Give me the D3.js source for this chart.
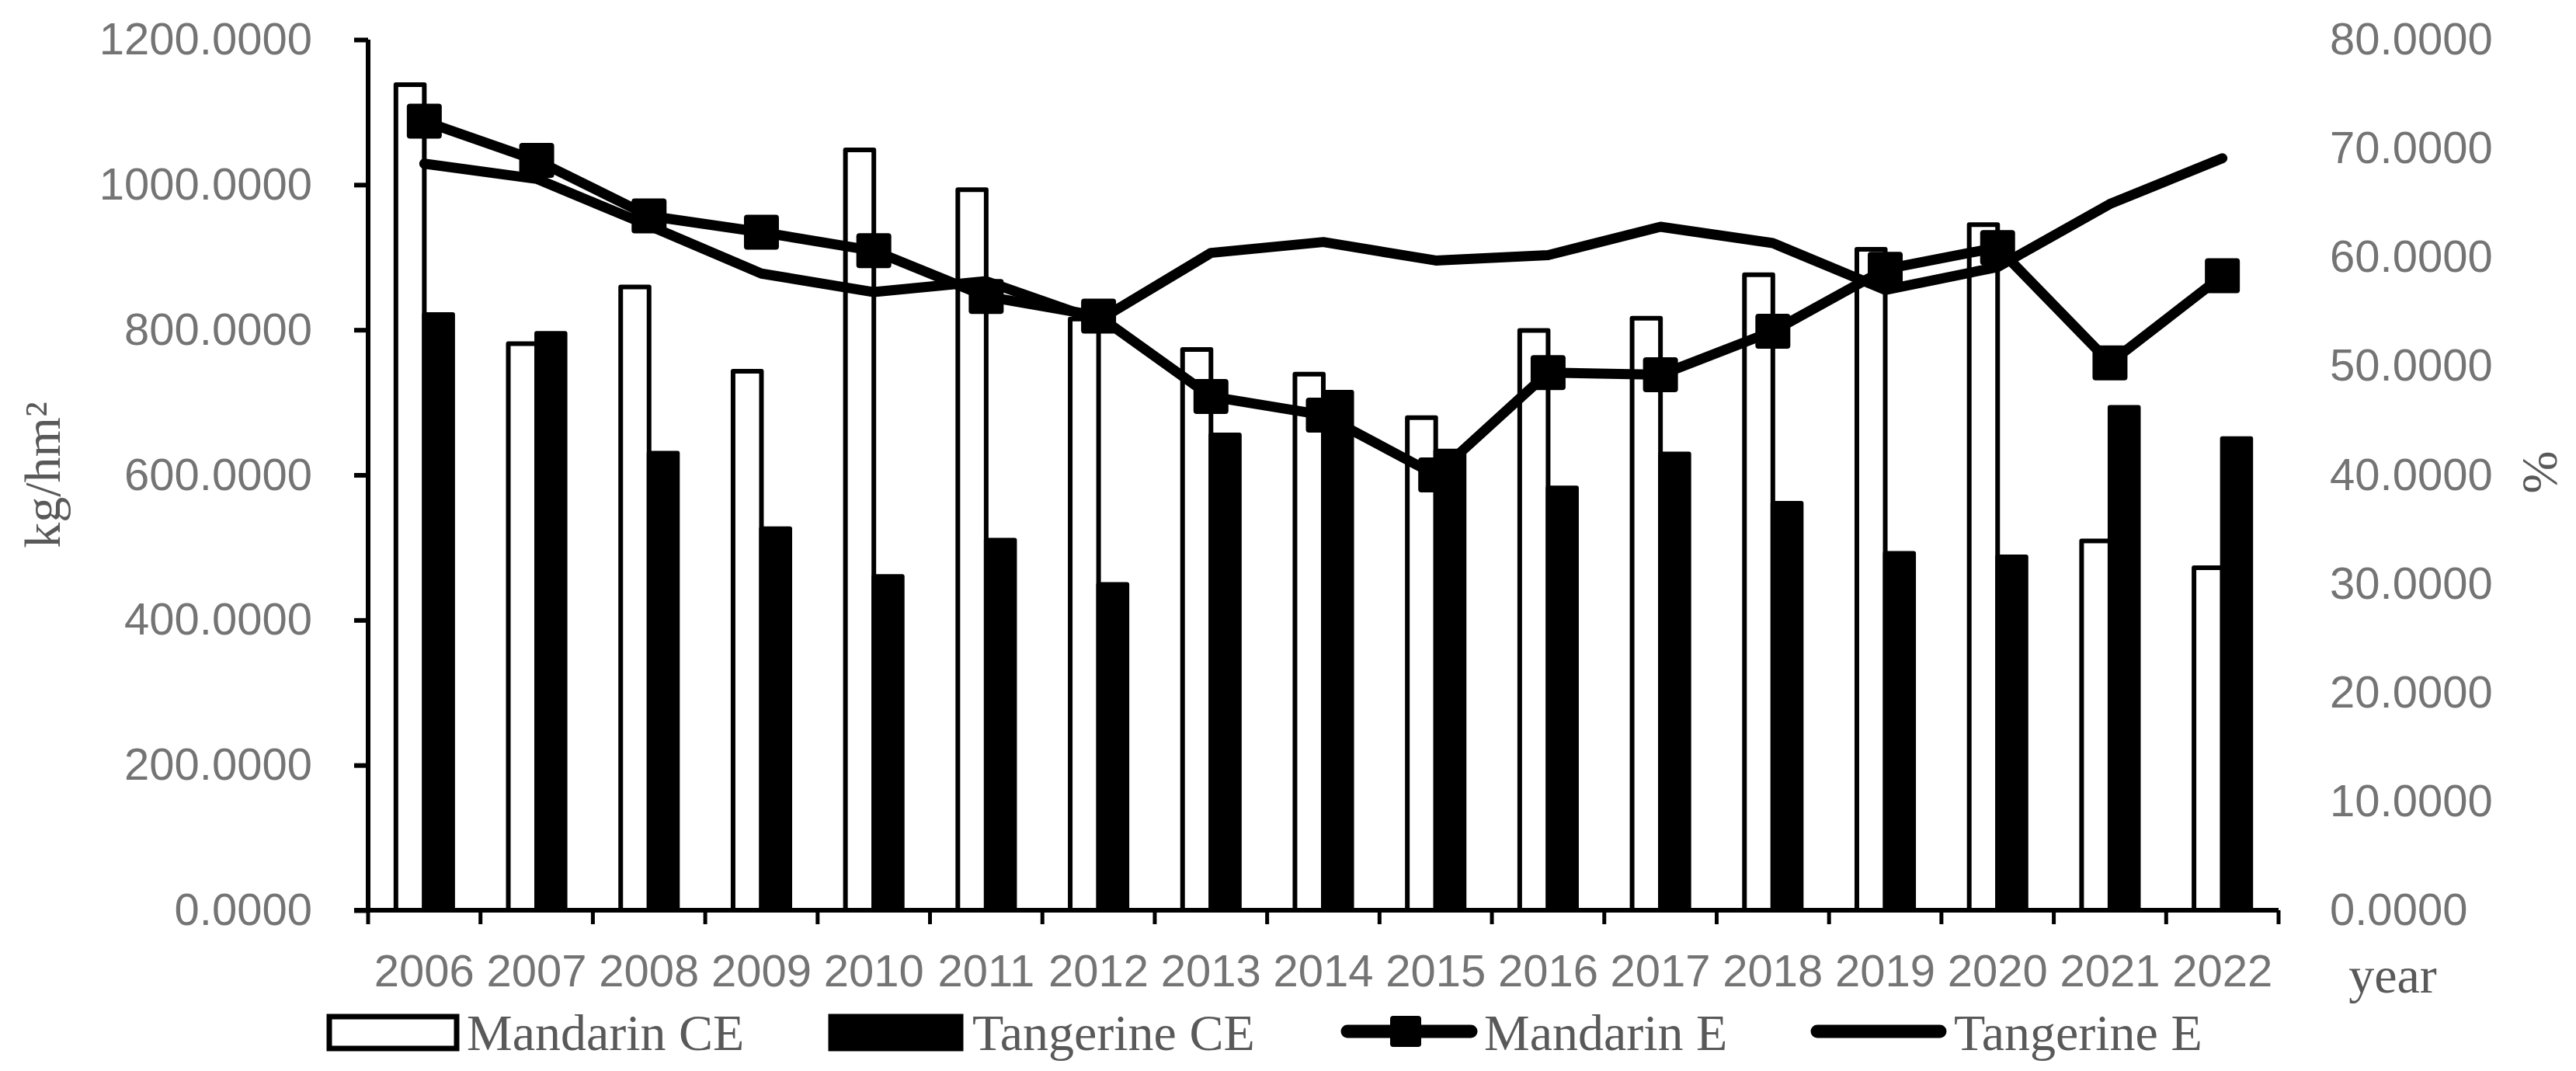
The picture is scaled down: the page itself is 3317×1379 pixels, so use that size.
<!DOCTYPE html>
<html>
<head>
<meta charset="utf-8">
<script src="https://cdn.jsdelivr.net/npm/d3@7"></script>
<style>
  body { margin: 0; background: #fff; }
  .tick text { font-family: "Liberation Sans", Arial, sans-serif; font-size: 58px; fill: #747474; }
  .serif { font-family: "Liberation Serif", "Times New Roman", serif; font-size: 66px; fill: #595959; }
</style>
</head>
<body>
<div id="chart"></div>
<script>
// chart data
const years = ["2006","2007","2008","2009","2010","2011","2012","2013","2014","2015","2016","2017","2018","2019","2020","2021","2022"];
const mandarinCE = [1138, 781, 859, 743, 1048, 993, 815, 773, 739, 679, 799, 816, 876, 911, 945, 509, 472];
const tangerineCE = [821, 795, 630, 526, 460, 510, 449, 655, 714, 633, 582, 629, 561, 492, 487, 693, 650];
const mandarinE = [72.5, 68.9, 63.8, 62.3, 60.6, 56.4, 54.6, 47.2, 45.5, 40.0, 49.4, 49.2, 53.2, 58.9, 60.9, 50.3, 58.3];
const tangerineE = [68.6, 67.2, 62.9, 58.5, 56.8, 57.8, 54.2, 60.4, 61.4, 59.7, 60.2, 62.8, 61.3, 57.0, 59.1, 64.9, 69.1];
const leftTicks = [0, 200, 400, 600, 800, 1000, 1200];
const rightTicks = [0, 10, 20, 30, 40, 50, 60, 70, 80];
const legendLabels = ["Mandarin CE", "Tangerine CE", "Mandarin E", "Tangerine E"];

// size of the picture
const width = 3317, height = 1379;
const plotLeft = 474, plotRight = 2934, plotTop = 51, plotBottom = 1172;

let svg = d3.select("#chart").append("svg")
    .attr("width", width)
    .attr("height", height)
    .style("background", "#fff");

// scales
let x0 = d3.scaleBand().domain(years).range([plotLeft, plotRight]).padding(0);
let x1 = d3.scaleBand().domain(["m", "t"]).range([0, x0.bandwidth()]).paddingInner(0).paddingOuter(0.98);
let yLeft = d3.scaleLinear().domain([0, 1200]).range([plotBottom, plotTop]);
let yRight = d3.scaleLinear().domain([0, 80]).range([plotBottom, plotTop]);

// ------------ BARS ------------ //
let barData = years.map((yr, i) => ({ year: yr, m: mandarinCE[i], t: tangerineCE[i] }));

let groups = svg.append("g").attr("class", "bars")
    .selectAll("g")
    .data(barData)
    .enter().append("g")
    .attr("transform", d => "translate(" + x0(d.year) + ",0)");

groups.selectAll("rect")
    .data(d => [{ key: "m", v: d.m }, { key: "t", v: d.t }])
    .enter().append("rect")
    .attr("x", d => x1(d.key))
    .attr("width", x1.bandwidth())
    .attr("y", d => yLeft(d.v))
    .attr("height", d => plotBottom - yLeft(d.v))
    .attr("fill", d => d.key === "m" ? "#fff" : "#000")
    .attr("stroke", "#000")
    .attr("stroke-width", 6)
    .attr("stroke-linejoin", "round");

// ------------ LINES ------------ //
let line = d3.line()
    .x((d, i) => x0(years[i]) + x0.bandwidth() / 2)
    .y(d => yRight(d));

svg.append("path")
    .datum(tangerineE)
    .attr("d", line)
    .attr("fill", "none")
    .attr("stroke", "#000")
    .attr("stroke-width", 13)
    .attr("stroke-linejoin", "round")
    .attr("stroke-linecap", "round");

svg.append("path")
    .datum(mandarinE)
    .attr("d", line)
    .attr("fill", "none")
    .attr("stroke", "#000")
    .attr("stroke-width", 13)
    .attr("stroke-linejoin", "round");

const markerSize = 45;
svg.append("g").attr("class", "markers")
    .selectAll("rect")
    .data(mandarinE)
    .enter().append("rect")
    .attr("x", (d, i) => x0(years[i]) + x0.bandwidth() / 2 - markerSize / 2)
    .attr("y", d => yRight(d) - markerSize / 2)
    .attr("width", markerSize)
    .attr("height", markerSize)
    .attr("rx", 4)
    .attr("fill", "#000");

// ------------ AXES ------------ //
let leftAxis = svg.append("g")
    .attr("transform", "translate(" + plotLeft + ",0)")
    .call(d3.axisLeft(yLeft).tickValues(leftTicks).tickSize(18).tickPadding(54).tickFormat(d3.format(".4f")));
leftAxis.select(".domain").attr("stroke", "#000").attr("stroke-width", 6)
    .attr("d", "M0," + plotTop + "V" + plotBottom);
leftAxis.selectAll(".tick line").attr("stroke", "#000").attr("stroke-width", 6);

let rightAxis = svg.append("g")
    .attr("transform", "translate(" + plotRight + ",0)")
    .call(d3.axisRight(yRight).tickValues(rightTicks).tickSize(0).tickPadding(66).tickFormat(d3.format(".4f")));
rightAxis.select(".domain").remove();

let bottomAxis = svg.append("g")
    .attr("transform", "translate(0," + plotBottom + ")")
    .call(d3.axisBottom(x0).tickSize(0).tickPadding(57));
bottomAxis.select(".domain").remove();

// x axis line and ticks at category edges
let edges = years.map(yr => x0(yr)).concat([x0(years[years.length - 1]) + x0.bandwidth()]);
svg.append("line")
    .attr("x1", plotLeft - 18).attr("x2", plotRight)
    .attr("y1", plotBottom).attr("y2", plotBottom)
    .attr("stroke", "#000").attr("stroke-width", 6);
svg.append("g").selectAll("line")
    .data(edges)
    .enter().append("line")
    .attr("x1", d => d).attr("x2", d => d)
    .attr("y1", plotBottom).attr("y2", plotBottom + 18)
    .attr("stroke", "#000").attr("stroke-width", 5);

// axis titles
svg.append("text").attr("class", "serif")
    .attr("transform", "translate(77," + (plotTop + plotBottom) / 2 + ") rotate(-90)")
    .attr("text-anchor", "middle")
    .text("kg/hm²");

svg.append("text").attr("class", "serif")
    .attr("transform", "translate(3292,608) rotate(-90)")
    .attr("text-anchor", "middle")
    .text("%");

svg.append("text").attr("class", "serif")
    .attr("x", 3081).attr("y", 1278)
    .attr("text-anchor", "middle")
    .text("year");

// ------------ LEGEND ------------ //
const legendY = 1328;
let legend = svg.append("g").attr("class", "legend");

legend.append("rect")
    .attr("x", 424).attr("y", 1309).attr("width", 164).attr("height", 41)
    .attr("fill", "#fff").attr("stroke", "#000").attr("stroke-width", 7);
legend.append("rect")
    .attr("x", 1070).attr("y", 1309).attr("width", 167).attr("height", 41)
    .attr("fill", "#000").attr("stroke", "#000").attr("stroke-width", 7);
legend.append("line")
    .attr("x1", 1735).attr("x2", 1894).attr("y1", legendY).attr("y2", legendY)
    .attr("stroke", "#000").attr("stroke-width", 17).attr("stroke-linecap", "round");
legend.append("rect")
    .attr("x", 1790).attr("y", legendY - 20).attr("width", 40).attr("height", 40)
    .attr("rx", 4).attr("fill", "#000");
legend.append("line")
    .attr("x1", 2340).attr("x2", 2498).attr("y1", legendY).attr("y2", legendY)
    .attr("stroke", "#000").attr("stroke-width", 17).attr("stroke-linecap", "round");

const legendTextX = [601, 1252, 1911, 2516];
legend.selectAll("text.lbl")
    .data(legendLabels)
    .enter().append("text")
    .attr("class", "serif lbl")
    .attr("x", (d, i) => legendTextX[i])
    .attr("y", 1352)
    .text(d => d);
</script>
</body>
</html>
